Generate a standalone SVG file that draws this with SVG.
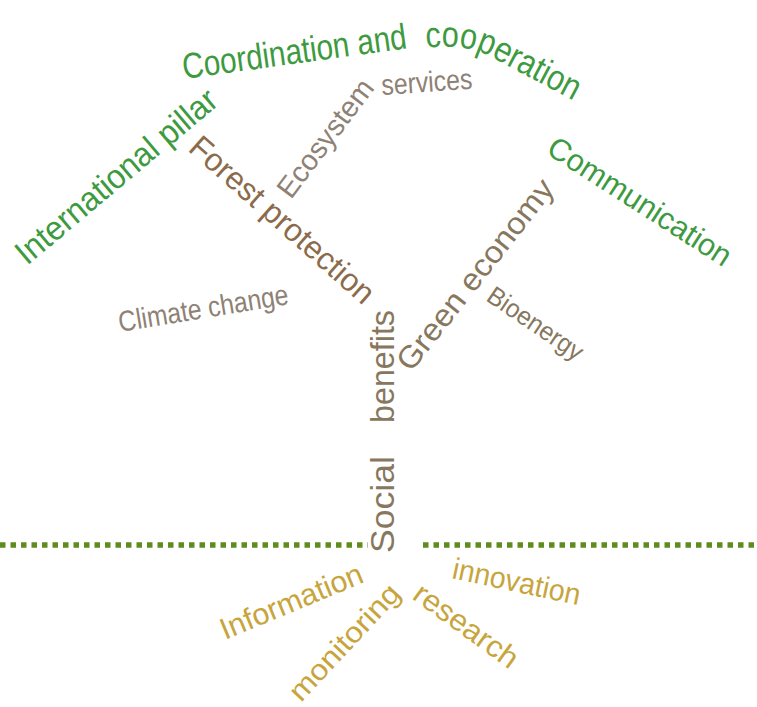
<svg xmlns="http://www.w3.org/2000/svg" width="757" height="707" viewBox="0 0 757 707">
<style>
text{font-family:"Liberation Sans",Arial,sans-serif;}
.g{fill:#3d9a3f;}
.br{fill:#8b6b4b;}
.gr{fill:#8e8175;}
.tn{fill:#87775e;}
.au{fill:#c7a53c;}
</style>
<defs>
<path id="p1" d="M 184 79 L 410 48"/>
<path id="p2" d="M 426 48 Q 470 43 495 59 L 578 103"/>
</defs>
<rect width="757" height="707" fill="#ffffff"/>
<g id="ground" stroke="#5e8c1f" stroke-width="5.5" stroke-dasharray="5.5 5">
<line x1="0" y1="545" x2="368" y2="545"/>
<line x1="423" y1="545" x2="757" y2="545"/>
</g>
<g id="international"><text class="g" font-size="34" transform="translate(27,266) rotate(-40)" textLength="252" lengthAdjust="spacingAndGlyphs">International pillar</text></g>
<g id="coordination"><text class="g" font-size="36"><textPath href="#p1" textLength="226" lengthAdjust="spacingAndGlyphs">Coordination and</textPath></text>
<text class="g" font-size="36"><textPath href="#p2" textLength="160" lengthAdjust="spacingAndGlyphs">cooperation</textPath></text></g>
<g id="ecosystem"><text class="gr" font-size="29" transform="translate(291,200) rotate(-53)" textLength="140" lengthAdjust="spacingAndGlyphs">Ecosystem</text>
<text class="gr" font-size="29" transform="translate(382,95) rotate(-4)" textLength="91" lengthAdjust="spacingAndGlyphs">services</text></g>
<g id="forest"><text class="br" font-size="32" transform="translate(187,150) rotate(41.5)" textLength="235" lengthAdjust="spacingAndGlyphs">Forest protection</text></g>
<g id="climate"><text class="gr" font-size="29" transform="translate(120,332) rotate(-9.4)" textLength="172" lengthAdjust="spacingAndGlyphs">Climate change</text></g>
<g id="social"><text class="tn" font-size="34" transform="translate(394,553) rotate(-90)" textLength="97" lengthAdjust="spacingAndGlyphs">Social</text>
<text class="tn" font-size="34" transform="translate(394,423) rotate(-90)" textLength="113" lengthAdjust="spacingAndGlyphs">benefits</text></g>
<g id="green"><text class="tn" font-size="31" transform="translate(411,373) rotate(-51.8)" textLength="234" lengthAdjust="spacingAndGlyphs">Green economy</text></g>
<g id="bioenergy"><text class="tn" font-size="26" transform="translate(485,300) rotate(34)" textLength="110" lengthAdjust="spacingAndGlyphs">Bioenergy</text></g>
<g id="communication"><text class="g" font-size="31" transform="translate(545,153) rotate(32.7)" textLength="212" lengthAdjust="spacingAndGlyphs">Communication</text></g>
<g id="information"><text class="au" font-size="30" transform="translate(225,640) rotate(-22.5)" textLength="152" lengthAdjust="spacingAndGlyphs">Information</text></g>
<g id="innovation"><text class="au" font-size="30" transform="translate(451,578) rotate(12)" textLength="130" lengthAdjust="spacingAndGlyphs">innovation</text></g>
<g id="monitoring"><text class="au" font-size="29" transform="translate(301,703) rotate(-47)" textLength="148" lengthAdjust="spacingAndGlyphs">monitoring</text></g>
<g id="research"><text class="au" font-size="30" transform="translate(411,598) rotate(36)" textLength="122" lengthAdjust="spacingAndGlyphs">research</text></g>
</svg>
